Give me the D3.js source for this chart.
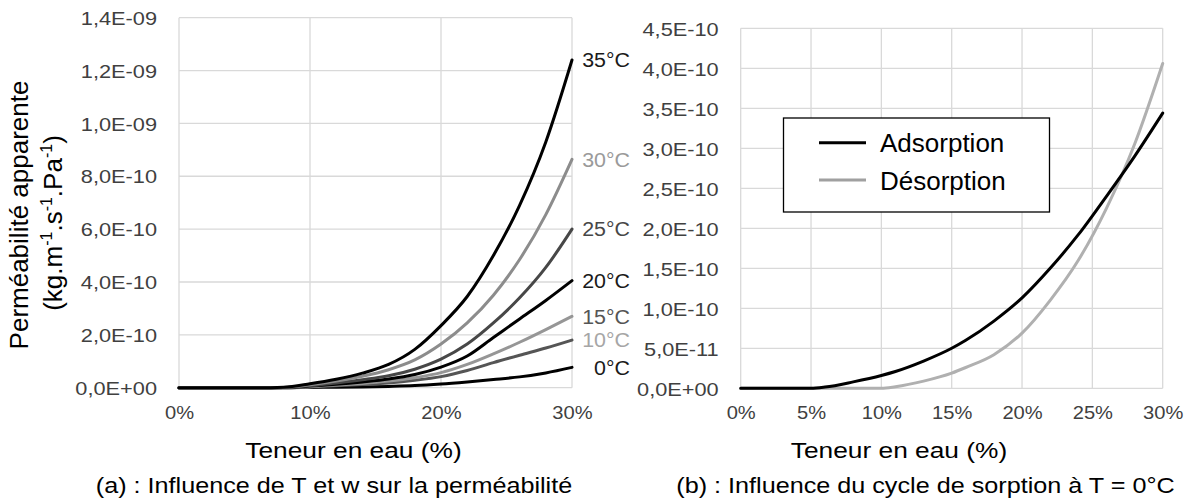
<!DOCTYPE html>
<html>
<head>
<meta charset="utf-8">
<script src="https://cdn.jsdelivr.net/npm/d3@7"></script>
<style>
  html, body { margin: 0; padding: 0; background: #fff; }
  svg { display: block; font-family: "Liberation Sans", Arial, sans-serif; }
</style>
</head>
<body>
<svg id="chart" width="1195" height="502"></svg>
<script>
// ---------------- DATA ----------------
// (a) Influence of T and w
const wA = [0, 2, 4, 6, 8, 10, 12, 14, 16, 18, 20, 22, 24, 26, 28, 30];
const seriesA = [
  { name: "35°C", line: "#000000", label: "#1a1a1a", values: [0, 0, 0, 0, 0.02e-10, 0.15e-10, 0.32e-10, 0.55e-10, 0.88e-10, 1.45e-10, 2.35e-10, 3.45e-10, 5.0e-10, 6.9e-10, 9.3e-10, 12.4e-10] },
  { name: "30°C", line: "#8c8c8c", label: "#9a9a9a", values: [0, 0, 0, 0, 0.01e-10, 0.11e-10, 0.25e-10, 0.43e-10, 0.68e-10, 1.05e-10, 1.65e-10, 2.45e-10, 3.5e-10, 4.85e-10, 6.55e-10, 8.64e-10] },
  { name: "25°C", line: "#474747", label: "#474747", values: [0, 0, 0, 0, 0.01e-10, 0.08e-10, 0.18e-10, 0.3e-10, 0.45e-10, 0.7e-10, 1.08e-10, 1.65e-10, 2.45e-10, 3.4e-10, 4.55e-10, 6.0e-10] },
  { name: "20°C", line: "#000000", label: "#1a1a1a", values: [0, 0, 0, 0, 0.01e-10, 0.06e-10, 0.13e-10, 0.22e-10, 0.33e-10, 0.5e-10, 0.78e-10, 1.2e-10, 1.9e-10, 2.6e-10, 3.3e-10, 4.05e-10] },
  { name: "15°C", line: "#969696", label: "#555555", values: [0, 0, 0, 0, 0, 0.04e-10, 0.1e-10, 0.16e-10, 0.25e-10, 0.38e-10, 0.57e-10, 0.88e-10, 1.28e-10, 1.72e-10, 2.2e-10, 2.7e-10] },
  { name: "10°C", line: "#555555", label: "#a6a6a6", values: [0, 0, 0, 0, 0, 0.03e-10, 0.07e-10, 0.12e-10, 0.18e-10, 0.28e-10, 0.42e-10, 0.65e-10, 0.95e-10, 1.23e-10, 1.5e-10, 1.8e-10] },
  { name: "0°C",  line: "#000000", label: "#1a1a1a", values: [0, 0, 0, 0, 0, 0.01e-10, 0.02e-10, 0.03e-10, 0.05e-10, 0.08e-10, 0.14e-10, 0.22e-10, 0.31e-10, 0.41e-10, 0.56e-10, 0.77e-10] }
];
const xTicksA = [0, 10, 20, 30];
const yTicksA = [0, 2e-10, 4e-10, 6e-10, 8e-10, 10e-10, 12e-10, 14e-10];
const yLabelsA = ["0,0E+00", "2,0E-10", "4,0E-10", "6,0E-10", "8,0E-10", "1,0E-09", "1,2E-09", "1,4E-09"];

// (b) Sorption cycle at T = 0°C
const wB = [0, 2, 4, 5, 6, 8, 10, 11, 13, 15, 16, 18, 20, 22, 24, 26, 28, 30];
const adsorption = [0, 0, 0, 0, 0.015e-10, 0.08e-10, 0.16e-10, 0.21e-10, 0.34e-10, 0.5e-10, 0.6e-10, 0.84e-10, 1.13e-10, 1.5e-10, 1.92e-10, 2.4e-10, 2.9e-10, 3.44e-10];
const desorption = [0, 0, 0, 0, 0, 0, 0, 0.02e-10, 0.09e-10, 0.19e-10, 0.26e-10, 0.42e-10, 0.69e-10, 1.1e-10, 1.6e-10, 2.25e-10, 3.05e-10, 4.06e-10];
const seriesB = [
  { name: "Adsorption", color: "#000000", legend: "#000000", values: adsorption },
  { name: "Désorption", color: "#b0b0b0", legend: "#a0a0a0", values: desorption }
];
const xTicksB = [0, 5, 10, 15, 20, 25, 30];
const yTicksB = [0, 0.5e-10, 1e-10, 1.5e-10, 2e-10, 2.5e-10, 3e-10, 3.5e-10, 4e-10, 4.5e-10];
const yLabelsB = ["0,0E+00", "5,0E-11", "1,0E-10", "1,5E-10", "2,0E-10", "2,5E-10", "3,0E-10", "3,5E-10", "4,0E-10", "4,5E-10"];

const xTitle = "Teneur en eau (%)";
const captionA = "(a) : Influence de T et w sur la perméabilité";
const captionB = "(b) : Influence du cycle de sorption à T = 0°C";

// ---------------- DRAW ----------------
const svg = d3.select("#chart");
svg.append("rect").attr("width", 1195).attr("height", 502).attr("fill", "#fff");

const GRID = "#d9d9d9";
const TICK_COLOR = "#404040";
const SX = 1.17; // horizontal text stretch of the reference

function panel(opts) {
  const { x, y, xTicks, yTicks, yLabels } = opts;
  const g = svg.append("g");
  g.selectAll(".hg").data(yTicks).join("line")
    .attr("x1", x.range()[0]).attr("x2", x.range()[1])
    .attr("y1", d => y(d)).attr("y2", d => y(d))
    .attr("stroke", GRID).attr("stroke-width", 1.3);
  g.selectAll(".vg").data(xTicks).join("line")
    .attr("x1", d => x(d)).attr("x2", d => x(d))
    .attr("y1", y.range()[0]).attr("y2", y.range()[1])
    .attr("stroke", GRID).attr("stroke-width", 1.3);

  const gy = g.append("g").attr("transform", `translate(${x.range()[0]},0)`)
    .call(d3.axisLeft(y).tickValues(yTicks).tickFormat((d, i) => yLabels[i]).tickSize(0).tickPadding(0));
  gy.select(".domain").remove();
  gy.attr("font-family", null).attr("font-size", null);
  gy.selectAll("text")
    .attr("x", 0).attr("dy", "0.36em")
    .attr("transform", `translate(-22,0) scale(${SX},1)`)
    .attr("fill", TICK_COLOR)
    .style("font-size", "18.6px");

  const gx = g.append("g").attr("transform", `translate(0,${y.range()[0]})`)
    .call(d3.axisBottom(x).tickValues(xTicks).tickFormat(d => d + "%").tickSize(0).tickPadding(0));
  gx.select(".domain").remove();
  gx.attr("font-family", null).attr("font-size", null);
  gx.selectAll("text")
    .attr("y", 0).attr("dy", 0)
    .attr("transform", `translate(0,31) scale(1.15,1)`)
    .attr("fill", TICK_COLOR)
    .style("font-size", "17.5px");
  return g;
}

// ----- Panel (a)
const xA = d3.scaleLinear().domain([0, 30]).range([179, 572]);
const yA = d3.scaleLinear().domain([0, 14e-10]).range([387.7, 17.7]);
const gA = panel({ x: xA, y: yA, xTicks: xTicksA, yTicks: yTicksA, yLabels: yLabelsA });

const lineA = d3.line().x((d, i) => xA(wA[i])).y(d => yA(d)).curve(d3.curveMonotoneX);
gA.selectAll(".curveA").data(seriesA.slice().reverse()).join("path")
  .attr("d", d => lineA(d.values))
  .attr("fill", "none").attr("stroke", d => d.line)
  .attr("stroke-width", 3).attr("stroke-linecap", "round").attr("stroke-linejoin", "round");

gA.selectAll(".lblA").data(seriesA).join("text")
  .attr("transform", d => `translate(630,${yA(d.values[d.values.length - 1])}) scale(1.07,1)`)
  .attr("dy", "0.36em")
  .attr("text-anchor", "end")
  .attr("fill", d => d.label)
  .style("font-size", "20px")
  .text(d => d.name);

// ----- Panel (b)
const xB = d3.scaleLinear().domain([0, 30]).range([740.7, 1162.7]);
const yB = d3.scaleLinear().domain([0, 4.5e-10]).range([388.3, 28.3]);
const gB = panel({ x: xB, y: yB, xTicks: xTicksB, yTicks: yTicksB, yLabels: yLabelsB });

const lineB = d3.line().x((d, i) => xB(wB[i])).y(d => yB(d)).curve(d3.curveMonotoneX);
gB.selectAll(".curveB").data(seriesB.slice().reverse()).join("path")
  .attr("d", d => lineB(d.values))
  .attr("fill", "none").attr("stroke", d => d.color)
  .attr("stroke-width", 3).attr("stroke-linecap", "round").attr("stroke-linejoin", "round");

// legend
const lg = svg.append("g");
lg.append("rect").attr("x", 783.5).attr("y", 118).attr("width", 266).attr("height", 94)
  .attr("fill", "#fff").attr("stroke", "#000").attr("stroke-width", 1.3);
const legY = [142.7, 180];
lg.selectAll(".ll").data(seriesB).join("line")
  .attr("x1", 819).attr("x2", 866)
  .attr("y1", (d, i) => legY[i]).attr("y2", (d, i) => legY[i])
  .attr("stroke", d => d.legend).attr("stroke-width", 3);
lg.selectAll(".lt").data(seriesB).join("text")
  .attr("x", 880).attr("y", (d, i) => legY[i] + 9.5)
  .attr("fill", "#000").style("font-size", "26px")
  .text(d => d.name);

// axis titles
[[353.5, xTitle], [899, xTitle]].forEach(([cx, t]) => {
  svg.append("text").attr("transform", `translate(${cx},458) scale(1.17,1)`)
    .attr("text-anchor", "middle").attr("fill", "#000").style("font-size", "22.5px").text(t);
});

// y title
svg.append("text").attr("transform", "translate(28,215) rotate(-90)")
  .attr("text-anchor", "middle").attr("fill", "#000").style("font-size", "26px")
  .text("Perméabilité apparente");
const yt2 = svg.append("text").attr("transform", "translate(62,223) rotate(-90)")
  .attr("text-anchor", "middle").attr("fill", "#000").style("font-size", "26px");
const parts = [["(kg.m", false], ["-1", true], [".s", false], ["-1", true], [".Pa", false], ["-1", true], [")", false]];
parts.forEach(([t, sup], i) => {
  const prevSup = i > 0 && parts[i - 1][1];
  yt2.append("tspan")
    .attr("dy", sup ? -10 : (prevSup ? 10 : 0))
    .style("font-size", sup ? "16px" : "26px")
    .text(t);
});

// captions
svg.append("text").attr("transform", "translate(334,493.3) scale(1.13,1)")
  .attr("text-anchor", "middle").attr("fill", "#000").style("font-size", "22.3px").text(captionA);
svg.append("text").attr("transform", "translate(925.5,493.3) scale(1.13,1)")
  .attr("text-anchor", "middle").attr("fill", "#000").style("font-size", "22.3px").text(captionB);
</script>
</body>
</html>
